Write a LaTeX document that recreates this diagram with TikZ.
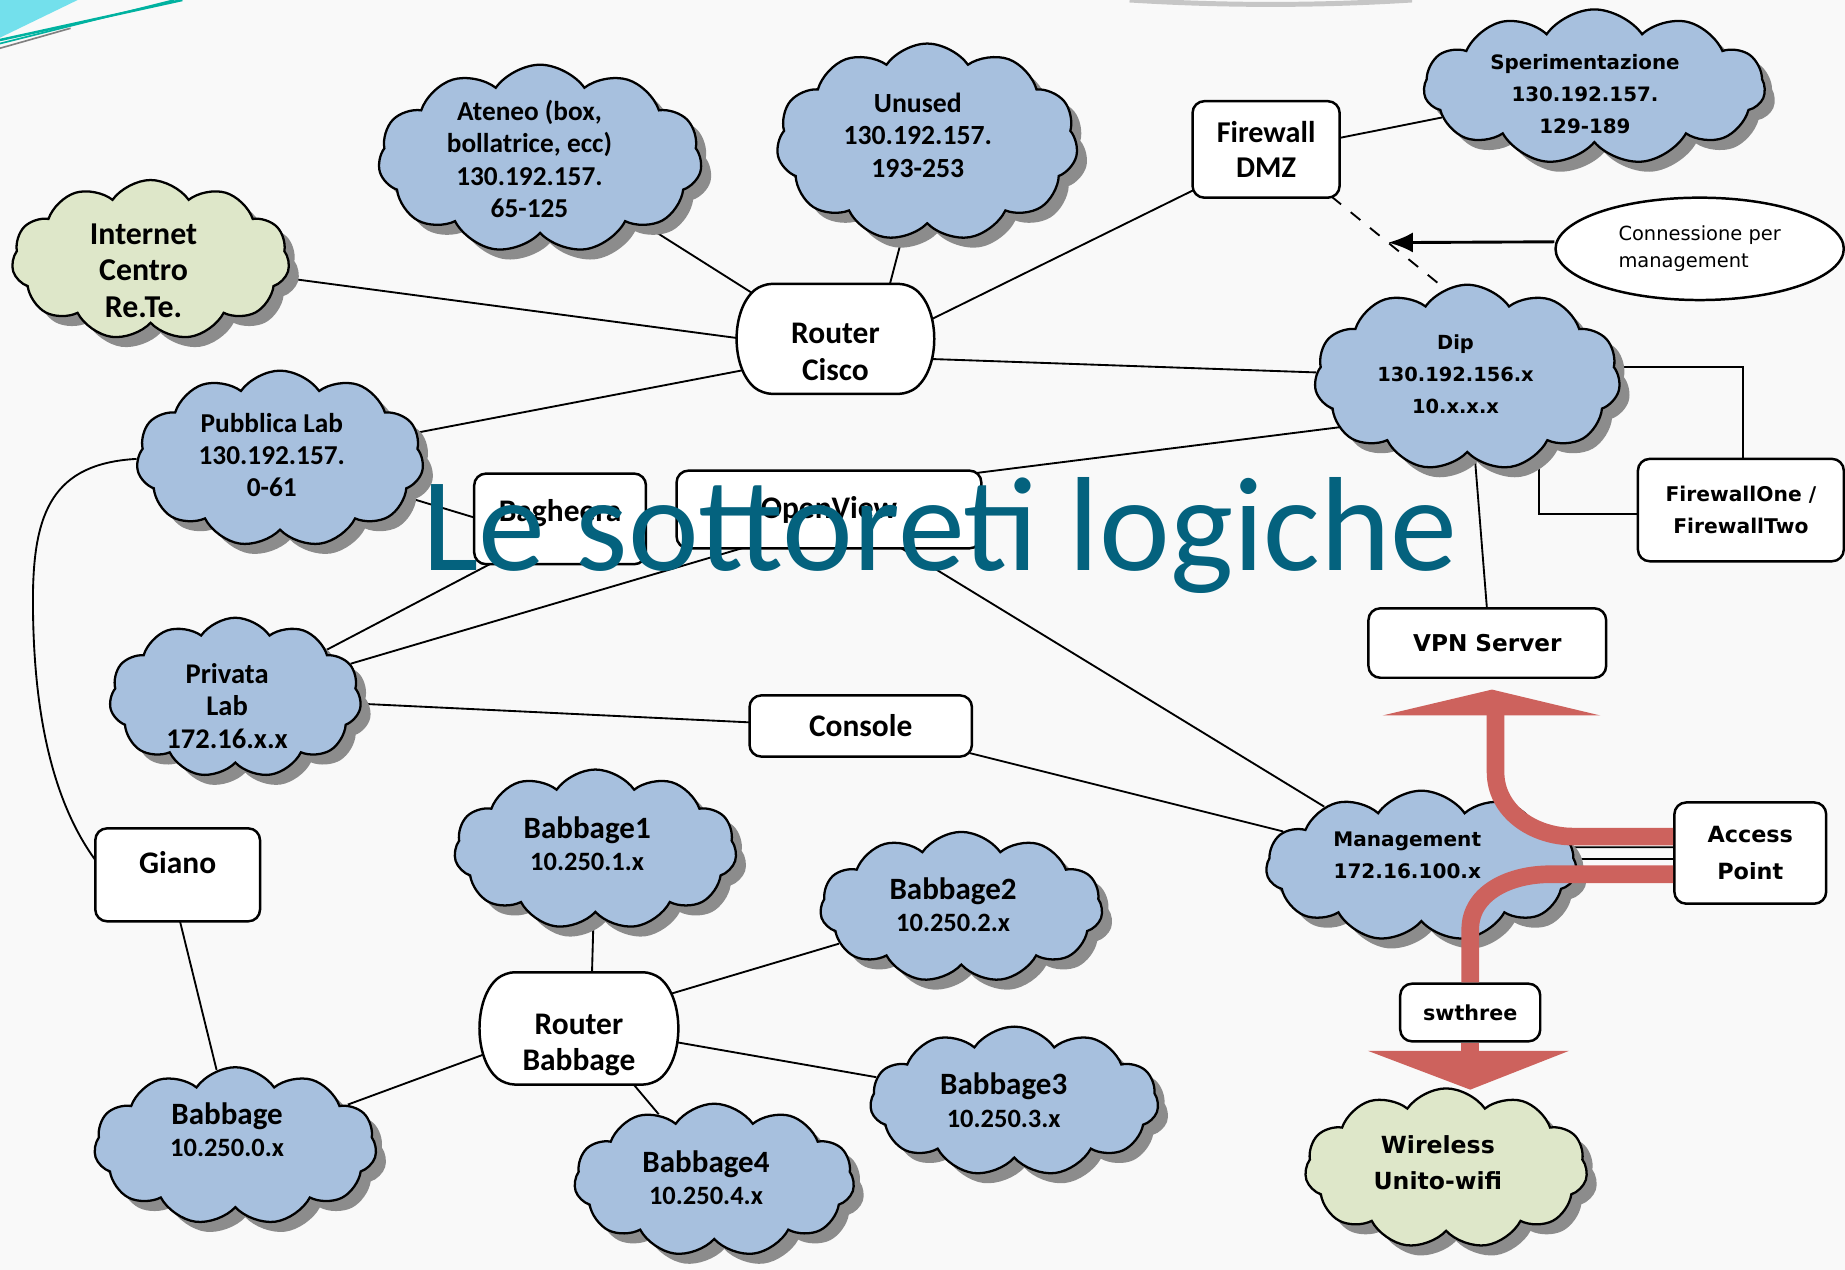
\documentclass[tikz,border=0pt]{standalone}
\usepackage{fontspec}
\setmainfont{Carlito}
\newfontfamily\vfont{DejaVu Sans}
\usetikzlibrary{shapes.symbols,shapes.geometric,shadows,calc,arrows.meta}
\definecolor{cloudblue}{RGB}{167,192,222}
\definecolor{cloudgreen}{RGB}{222,231,201}
\definecolor{shadowgray}{RGB}{140,140,140}
\definecolor{arrowred}{RGB}{205,98,93}
\definecolor{titleteal}{RGB}{4,98,126}
\definecolor{bgcol}{RGB}{249,249,249}
\definecolor{decocyan}{RGB}{115,224,236}
\definecolor{decoteal}{RGB}{0,178,160}
\newcommand{\myCal}[2]{\fontsize{#1}{#2}\selectfont\bfseries}
\newcommand{\myVer}[2]{\vfont\fontsize{#1}{#2}\selectfont\bfseries}
\newcommand{\drawRouter}[1]{\draw[line width=0.6pt, fill=white, rounded corners=0.8mm]
 (#1.north) -- ($(#1.north east)+(-21,0)$)
 .. controls ($(#1.north east)+(6,22)$) and ($(#1.south east)+(6,-22)$) .. ($(#1.south east)+(-21,0)$)
 -- ($(#1.south west)+(21,0)$)
 .. controls ($(#1.south west)+(-6,-22)$) and ($(#1.north west)+(-6,22)$) .. ($(#1.north west)+(21,0)$) -- cycle;}
\pgfdeclarelayer{edgelayer}
\pgfdeclarelayer{shapelayer}
\pgfsetlayers{edgelayer,shapelayer,main}
\begin{document}
\begin{tikzpicture}[x=0.1mm,y=-0.1mm,
  cloudbase/.style={cloud, cloud puffs=11, cloud puff arc=110, cloud ignores aspect, draw=black, line width=0.55pt, inner sep=0pt,
     drop shadow={shadow xshift=0.85mm, shadow yshift=-0.85mm, fill=shadowgray, opacity=1}},
  bcloud/.style={cloudbase, fill=cloudblue},
  gcloud/.style={cloudbase, fill=cloudgreen},
  box/.style={draw=black, line width=0.6pt, fill=white, rounded corners=1mm, inner sep=0pt, align=center},
  edge/.style={draw=black, line width=0.45pt},
  lbl/.style={align=center, inner sep=0pt}]
\useasboundingbox (0,0) rectangle (1568,1079);

% ---------- clouds ----------
\node[gcloud, minimum width=23.6mm, minimum height=13.6mm] (internet) at (128,221) {};
\node[lbl, font={\myCal{7.7}{8.9}}] (internet-t) at (122,230) {Internet\\Centro\\Re.Te.};

\node[bcloud, minimum width=27.5mm, minimum height=16mm] (ateneo) at (459,135) {};
\node[lbl, font={\myCal{6.6}{7.85}}] (ateneo-t) at (450,135) {Ateneo (box,\\bollatrice, ecc)\\130.192.157.\\65-125};

\node[bcloud, minimum width=25.6mm, minimum height=16.8mm] (unused) at (788,121) {};
\node[lbl, font={\myCal{6.7}{7.8}}] (unused-t) at (780,115) {Unused\\130.192.157.\\193-253};

\node[bcloud, minimum width=29mm, minimum height=13.2mm] (sperim) at (1355,74) {};
\node[lbl, font={\myVer{4.8}{7.7}}] (sperim-t) at (1347,80) {Sperimentazione\\130.192.157.\\129-189};

\node[bcloud, minimum width=24.4mm, minimum height=15mm] (pubblica) at (238,390) {};
\node[lbl, font={\myCal{6.6}{7.7}}] (pubblica-t) at (231,387) {Pubblica Lab\\130.192.157.\\0-61};

\node[bcloud, minimum width=26mm, minimum height=15.8mm] (dip) at (1247,321) {};
\node[lbl, font={\myVer{4.7}{7.8}}] (dip-t) at (1237,318) {Dip\\130.192.156.x\\10.x.x.x};

\node[bcloud, minimum width=21.4mm, minimum height=13.6mm] (privata) at (200,593) {};
\node[lbl, font={\myCal{6.9}{7.9}}] (privata-t) at (193,600) {Privata\\Lab\\172.16.x.x};

\node[bcloud, minimum width=24mm, minimum height=13.6mm] (bab1) at (506,722) {};
\node[lbl, font={\myCal{7.5}{7.9}}] (bab1-t) at (499,717) {Babbage1\\{\fontsize{6.4}{7.9}\selectfont 10.250.1.x}};

\node[bcloud, minimum width=24mm, minimum height=12.8mm] (bab2) at (817,771) {};
\node[lbl, font={\myCal{7.5}{7.9}}] (bab2-t) at (810,769) {Babbage2\\{\fontsize{6.4}{7.9}\selectfont 10.250.2.x}};

\node[bcloud, minimum width=26.4mm, minimum height=12.8mm] (mgmt) at (1208,736) {};
\node[lbl, font={\myVer{4.85}{7.9}}] (mgmt-t) at (1196,727) {Management\\172.16.100.x};

\node[bcloud, minimum width=24mm, minimum height=13.4mm] (babbage) at (200,974) {};
\node[lbl, font={\myCal{7.5}{7.9}}] (babbage-t) at (193,960) {Babbage\\{\fontsize{6.4}{7.9}\selectfont 10.250.0.x}};

\node[bcloud, minimum width=24.5mm, minimum height=12.7mm] (bab3) at (862,936) {};
\node[lbl, font={\myCal{7.5}{7.9}}] (bab3-t) at (853,935) {Babbage3\\{\fontsize{6.4}{7.9}\selectfont 10.250.3.x}};

\node[bcloud, minimum width=23.8mm, minimum height=13mm] (bab4) at (607,1003) {};
\node[lbl, font={\myCal{7.5}{7.9}}] (bab4-t) at (600,1001) {Babbage4\\{\fontsize{6.4}{7.9}\selectfont 10.250.4.x}};

\node[gcloud, minimum width=24mm, minimum height=13.6mm] (wireless) at (1229,993) {};
\node[lbl, font={\myVer{5.7}{8.8}}] (wireless-t) at (1222,988) {Wireless\\Unito-wifi};

% ---------- boxes ----------
\node[box, minimum width=12.5mm, minimum height=8.2mm, font={\myCal{7.3}{8.5}}] (fwdmz) at (1076,127) {Firewall\\DMZ};
\node[box, minimum width=14.6mm, minimum height=7.7mm] (bagheera) at (476,441) {};
\node[lbl, font={\myCal{7.6}{8.8}}] (bagheera-t) at (476,436) {Bagheera};
\node[box, minimum width=25.9mm, minimum height=6.6mm, font={\myCal{7.6}{8.8}}] (openview) at (704.5,433) {OpenView};
\node[box, minimum width=20.2mm, minimum height=5.9mm, font={\myVer{5.6}{7}}] (vpn) at (1264,546.5) {VPN Server};
\node[box, minimum width=17.5mm, minimum height=8.7mm, font={\myVer{4.9}{7.7}}] (fw1) at (1479.5,433.5) {FirewallOne /\\FirewallTwo};
\node[box, minimum width=18.9mm, minimum height=5.2mm, font={\myCal{7.6}{8.8}}] (console) at (731.5,617) {Console};
\node[box, minimum width=14mm, minimum height=7.9mm] (giano) at (151,743.5) {};
\node[lbl, font={\myCal{7.6}{8.8}}] (giano-t) at (151,733) {Giano};
\node[box, minimum width=12.9mm, minimum height=8.6mm, font={\myVer{5.4}{9}}] (ap) at (1487.5,725) {Access\\Point};
\node[box, minimum width=11.9mm, minimum height=4.9mm, font={\myVer{5}{7}}] (sw) at (1249.5,860.5) {swthree};
\node[ellipse, draw=black, fill=white, line width=0.6pt, minimum width=24.5mm, minimum height=8.7mm, inner sep=0pt,
      align=left, font={\vfont\fontsize{4.7}{6.5}\selectfont}] (conn) at (1444.5,211.5) {Connessione per\\management};

% ---------- routers ----------
\node[lbl, minimum width=16.5mm, minimum height=9.2mm] (rc) at (710,288) {};
\node[lbl, font={\myCal{7.6}{8.8}}] (rc-t) at (710,299) {Router\\Cisco};
\node[lbl, minimum width=16.6mm, minimum height=9.4mm] (rb) at (492,874) {};
\node[lbl, font={\myCal{7.6}{8.8}}] (rb-t) at (492,888) {Router\\Babbage};
\begin{pgfonlayer}{shapelayer}
\drawRouter{rc}
\drawRouter{rb}
\end{pgfonlayer}

% ---------- connectors ----------
\begin{pgfonlayer}{edgelayer}
\fill[bgcol] (0,0) rectangle (1568,1079);
\fill[decocyan] (0,0) -- (66,0) -- (0,32) -- cycle;
\draw[decoteal, line width=0.6pt] (0,34) -- (155,0);
\draw[decoteal, line width=0.4pt] (0,37) -- (148,0);
\draw[gray, line width=0.4pt] (0,41) -- (60,24);
\draw[gray!45, line width=1.2pt] (960,0) .. controls (1040,5) and (1120,5) .. (1200,0);

\draw[edge] (internet) -- ($(rc.west)+(5,0)$);
\draw[edge] (ateneo) -- ($(rc.north west)+(16,10)$);
\draw[edge] (unused) -- ($(rc.north)+(45,5)$);
\draw[edge] ($(rc.east)+(-5,-15)$) -- ($(fwdmz.south west)+(5,-9)$);
\draw[edge] ($(fwdmz.east)+(-5,-9)$) -- (sperim);
\draw[edge] ($(rc.east)+(-5,17)$) -- (dip);
\draw[edge] (pubblica) -- ($(rc.west)+(8,26)$);
\draw[edge] (pubblica) -- ($(bagheera.west)+(5,0)$);
\draw[edge] (pubblica.west) .. controls (45,394) and (28,435) .. (28,510)
            .. controls (28,620) and (50,690) .. ($(giano.west)+(3,-10)$);
\draw[edge] ($(openview.north east)+(-5,3)$) -- ($(dip.center)+(-100,41)$);
\draw[edge] ($(dip.center)+(5,50)$) -- ($(vpn.north)+(0,5)$);
\draw[edge] ($(dip.center)+(93,-9)$) -| ($(fw1.north)+(2,5)$);
\draw[edge] ($(dip.center)+(61,60)$) |- ($(fw1.west)+(5,3)$);
\draw[edge] (privata) -- ($(bagheera.south west)+(18,-3)$);
\draw[edge] (privata) -- ($(openview.south west)+(63,-3)$);
\draw[edge] ($(openview.south west)+(189,-3)$) -- (mgmt);
\draw[edge] (privata) -- ($(console.west)+(3,-3)$);
\draw[edge] ($(console.east)+(-3,23)$) -- (mgmt);
\draw[edge] ($(ap.west)+(5,-5)$) -- ($(mgmt.east)+(-20,-16)$);
\draw[edge] ($(ap.west)+(5,5)$) -- ($(mgmt.east)+(-20,-6)$);
\draw[edge] ($(giano.south)+(1,-5)$) -- (babbage);
\draw[edge] (babbage) -- ($(rb.west)+(6,21)$);
\draw[edge] (bab1) -- ($(rb.north)+(11,5)$);
\draw[edge] ($(rb.north east)+(-8,19)$) -- (bab2);
\draw[edge] ($(rb.east)+(-5,11)$) -- (bab3);
\draw[edge] ($(rb.south)+(44,-3)$) -- (bab4);
\coordinate (dA) at ($(fwdmz.south east)+(-8,-2)$);
\coordinate (dB) at ($(dip.center)+(-6,-65)$);
\draw[edge, dashed] (dA) -- (dB);
\coordinate (mtip) at ($(dA)!0.44!(dB)$);
\draw[draw=black, line width=0.7pt, -{Latex[length=2.1mm,width=1.7mm]}] ($(conn.west)+(0,-6)$) -- (mtip);
\end{pgfonlayer}

% ---------- red arrows ----------
\coordinate (uptip) at ($(vpn.south)+(4,9)$);
\draw[arrowred, line width=1.5mm] ($(ap.west)+(0,-14)$) -- ($(ap.west)+(-85,-14)$)
      to[out=180,in=-90] ($(uptip)+(3,70)$) -- ($(uptip)+(3,21)$);
\fill[arrowred] ($(uptip)+(-93,22)$) -- ($(uptip)+(92,22)$) -- (uptip) -- cycle;
\draw[arrowred, line width=1.5mm] ($(ap.west)+(0,18)$) -- ($(ap.west)+(-105,18)$)
      to[out=180,in=90] ($(sw.north)+(0,-45)$) -- (sw.north);
\coordinate (dntip) at ($(sw.south)+(0,40)$);
\draw[arrowred, line width=1.5mm] (sw.south) -- ($(dntip)+(0,-31)$);
\fill[arrowred] ($(dntip)+(-87,-33)$) -- ($(dntip)+(84,-33)$) -- (dntip) -- cycle;

% ---------- title ----------
\node[anchor=base, inner sep=0pt, text=titleteal, font={\fontsize{32.4}{38}\selectfont}] (title) at (799,485) {Le sottoreti logiche};
\end{tikzpicture}
\end{document}
